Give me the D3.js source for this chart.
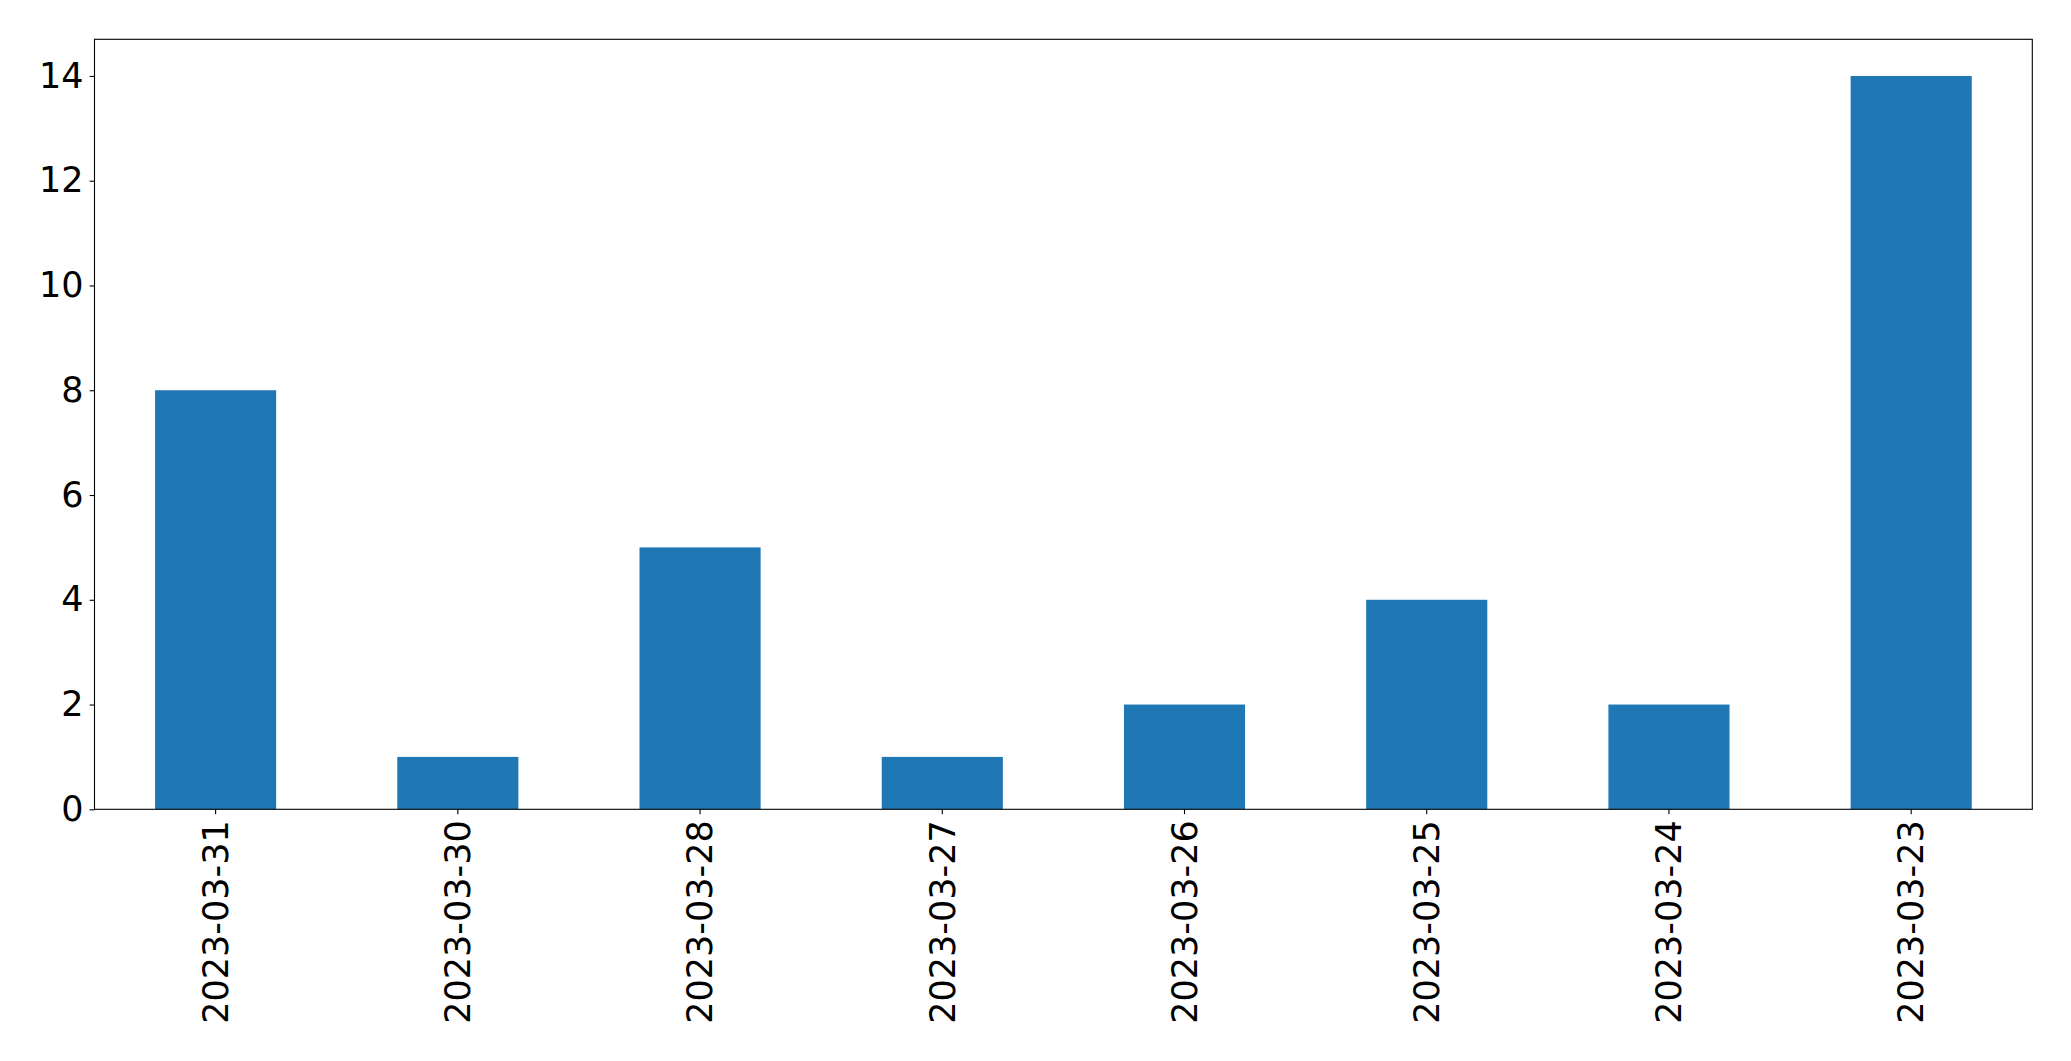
<!DOCTYPE html>
<html>
<head>
<meta charset="utf-8">
<script src="https://cdn.jsdelivr.net/npm/d3@7"></script>
<style>
  html, body { margin: 0; padding: 0; background: #fff; }
  svg { display: block; }
  text { font-family: "DejaVu Sans", sans-serif; }
</style>
</head>
<body>
<svg id="chart" width="2071" height="1061"></svg>
<script>
const categories = ["2023-03-31", "2023-03-30", "2023-03-28", "2023-03-27", "2023-03-26", "2023-03-25", "2023-03-24", "2023-03-23"];
const values = [8, 1, 5, 1, 2, 4, 2, 14];
const yTicks = [0, 2, 4, 6, 8, 10, 12, 14];

(function () {
const plotLeft = 94.5, plotRight = 2032.3, plotTop = 39.3, plotBottom = 809.3;
const fontSize = 35;

const svg = d3.select("#chart");

const x = d3.scaleBand()
  .domain(categories)
  .range([plotLeft, plotRight])
  .paddingInner(0.5)
  .paddingOuter(0.25);

const y = d3.scaleLinear()
  .domain([0, 14.7])
  .range([plotBottom, plotTop]);

svg.append("g")
  .selectAll("rect")
  .data(values)
  .join("rect")
  .attr("x", (d, i) => x(categories[i]))
  .attr("width", x.bandwidth())
  .attr("y", d => y(d))
  .attr("height", d => y(0) - y(d))
  .attr("fill", "#1f77b4");

svg.append("rect")
  .attr("x", plotLeft).attr("y", plotTop)
  .attr("width", plotRight - plotLeft).attr("height", plotBottom - plotTop)
  .attr("fill", "none").attr("stroke", "#000").attr("stroke-width", 1.1);

const yAxis = d3.axisLeft(y).tickValues(yTicks).tickSize(4.9).tickPadding(6).tickFormat(d3.format("d"));
const gy = svg.append("g").attr("transform", `translate(${plotLeft},0)`).call(yAxis);
gy.select(".domain").remove();
gy.selectAll(".tick line").attr("stroke", "#000").attr("stroke-width", 1.1);
gy.selectAll(".tick text")
  .attr("fill", "#000")
  .style("font-size", fontSize + "px")
  .style("font-family", "'DejaVu Sans', sans-serif");

const xAxis = d3.axisBottom(x).tickSize(4.9).tickPadding(0);
const gx = svg.append("g").attr("transform", `translate(0,${plotBottom})`).call(xAxis);
gx.select(".domain").remove();
gx.selectAll(".tick line").attr("stroke", "#000").attr("stroke-width", 1.1);
gx.selectAll(".tick text")
  .attr("fill", "#000")
  .style("font-size", fontSize + "px")
  .style("font-family", "'DejaVu Sans', sans-serif")
  .attr("transform", "translate(0,11) rotate(-90)")
  .attr("text-anchor", "end")
  .attr("x", 0)
  .attr("y", 0)
  .attr("dy", "0.35em");
})();
</script>
</body>
</html>
